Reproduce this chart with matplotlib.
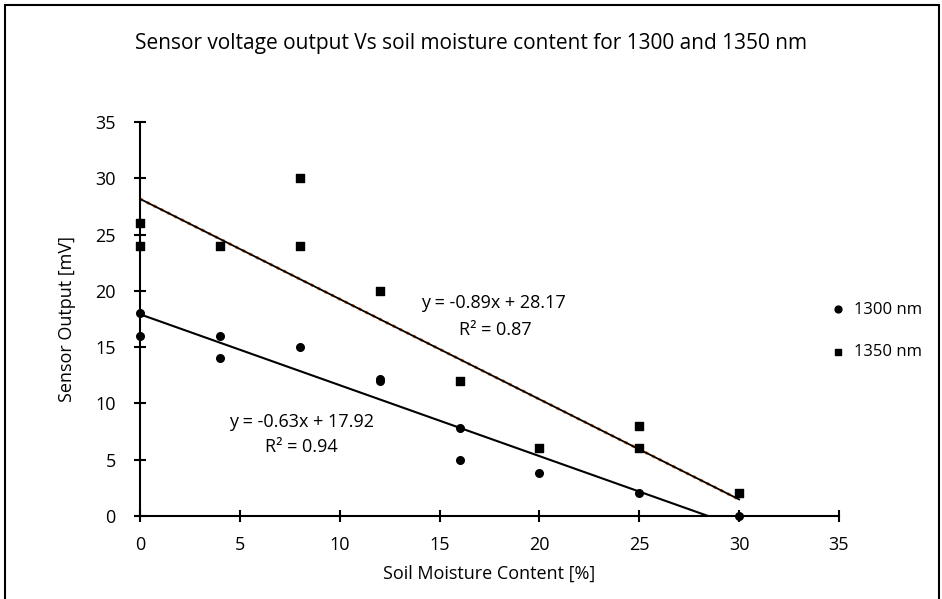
import numpy as np
import matplotlib.pyplot as plt
from matplotlib.patches import Rectangle

plt.rcParams['font.family'] = ['Open Sans', 'DejaVu Sans']

# data
x_1300 = [0, 0, 4, 4, 8, 12, 12, 16, 16, 20, 25, 30]
y_1300 = [18, 16, 16, 14, 15, 12.2, 12, 7.8, 5, 3.8, 2, 0]
x_1350 = [0, 0, 4, 8, 8, 12, 16, 20, 25, 25, 30]
y_1350 = [26, 24, 24, 30, 24, 20, 12, 6, 8, 6, 2]

# trendline coefficients as printed
fit_1300 = (-0.63, 17.92, 0.94)
fit_1350 = (-0.89, 28.17, 0.87)

fig = plt.figure(figsize=(9.42, 5.99), dpi=100)
ax = fig.add_axes([140/942, 83/599, 699/942, 394/599])

# outer chart border (bottom edge is cut off in the original)
fig.patches.append(Rectangle((5/942, -0.05), 934/942, 1.05 - 5/599,
                             transform=fig.transFigure, fill=False,
                             edgecolor='black', linewidth=1.5))

ax.scatter(x_1300, y_1300, marker='o', s=30, color='black', zorder=4, label='1300 nm', clip_on=False)
ax.scatter(x_1350, y_1350, marker='s', s=30, color='black', zorder=4, label='1350 nm', clip_on=False)

xs = np.array([0, 30])
m, b, r2 = fit_1300
ax.plot(xs, m*xs + b, color='black', lw=1.5, zorder=3)
m2, b2, r22 = fit_1350
ax.plot(xs, m2*xs + b2, color='#ED7D31', lw=2.2, ls=(0, (1, 1.5)), zorder=2)
ax.plot(xs, m2*xs + b2, color='black', lw=1.3, zorder=3)

fs = 13
ax.text(8.1, 8.35, f"y = {m:.2f}x + {b:.2f}", ha='center', va='center', fontsize=fs)
ax.text(8.1, 6.1, f"R² = {r2:.2f}", ha='center', va='center', fontsize=fs)
ax.text(17.7, 18.9, f"y = {m2:.2f}x + {b2:.2f}", ha='center', va='center', fontsize=fs)
ax.text(17.8, 16.5, f"R² = {r22:.2f}", ha='center', va='center', fontsize=fs)

ax.set_xlim(0, 35)
ax.set_ylim(0, 35)
ax.set_xticks(range(0, 36, 5))
ax.set_yticks(range(0, 36, 5))
for s in ['top', 'right']:
    ax.spines[s].set_visible(False)
for s in ['left', 'bottom']:
    ax.spines[s].set_linewidth(1.5)
ax.tick_params(direction='inout', length=9, width=1.5, labelsize=fs)
ax.tick_params(axis='x', pad=10)
ax.tick_params(axis='y', pad=13)

ax.set_xlabel("Soil Moisture Content [%]", fontsize=fs, labelpad=8)
ax.set_ylabel("Sensor Output [mV]", fontsize=fs, labelpad=14)
fig.text(0.5, 1 - 43/599, "Sensor voltage output Vs soil moisture content for 1300 and 1350 nm",
         ha='center', va='center', fontsize=15)

ax.legend(loc='center left', bbox_to_anchor=(806/942, 1 - 331/599), bbox_transform=fig.transFigure,
          frameon=False, fontsize=12, labelspacing=1.6, handletextpad=0.0, markerscale=0.9)

fig.savefig("out.png", dpi=100)
